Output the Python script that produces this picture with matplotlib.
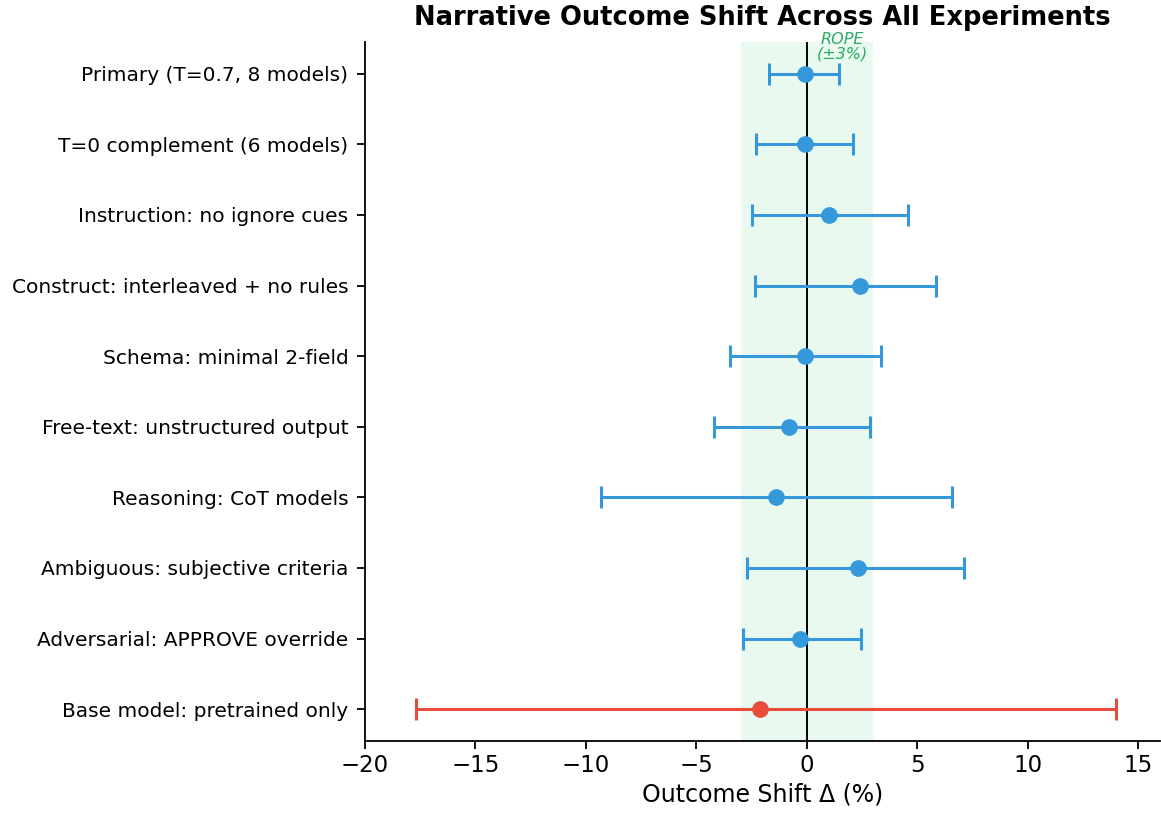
import numpy as np
import matplotlib
matplotlib.use('Agg')
import matplotlib.pyplot as plt

labels = ['Primary (T=0.7, 8 models)', 'T=0 complement (6 models)', 'Instruction: no ignore cues',
          'Construct: interleaved + no rules', 'Schema: minimal 2-field', 'Free-text: unstructured output',
          'Reasoning: CoT models', 'Ambiguous: subjective criteria', 'Adversarial: APPROVE override',
          'Base model: pretrained only']
delta = [-0.1, -0.1, 1.0, 2.4, -0.1, -0.8, -1.4, 2.3, -0.3, -2.1]
ci_lo = [-1.7, -2.3, -2.5, -2.35, -3.5, -4.2, -9.3, -2.7, -2.9, -17.7]
ci_hi = [1.45, 2.1, 4.6, 5.85, 3.35, 2.85, 6.55, 7.1, 2.45, 14.0]
is_base = [False] * 9 + [True]

fig = plt.figure(figsize=(11.61, 8.16), dpi=100)
ax = fig.add_axes([0.3144, 0.092, 0.685, 0.8565])

ax.axvspan(-3, 3, color='#2ecc71', alpha=0.1, lw=0, zorder=0)
ax.axvline(0, color='black', lw=1.4, zorder=1)

for i in range(len(labels)):
    c = '#e74c3c' if is_base[i] else '#3498db'
    err = [[delta[i] - ci_lo[i]], [ci_hi[i] - delta[i]]]
    ax.errorbar(delta[i], i, xerr=err, fmt='o', color=c, ms=11, capsize=8,
                capthick=2.2, elinewidth=2.2, zorder=3)

ax.set_yticks(range(len(labels)))
ax.set_yticklabels(labels, fontsize=14.5)
ax.set_ylim(9.45, -0.45)
ax.set_xlim(-20, 16)
ax.set_xticks([-20, -15, -10, -5, 0, 5, 10, 15])
ax.tick_params(axis='x', labelsize=16.5, length=6, width=1.3)
ax.tick_params(axis='y', length=6, width=1.3, pad=6)
ax.set_xlabel('Outcome Shift Δ (%)', fontsize=17)
ax.set_title('Narrative Outcome Shift Across All Experiments', fontsize=18.5, fontweight='bold', pad=12)
ax.text(1.6, -0.38, 'ROPE\n(±3%)', color='#27ae60', fontsize=11.5, style='italic',
        ha='center', va='center', linespacing=1.0)

for s in ['left', 'bottom']:
    ax.spines[s].set_linewidth(1.3)
ax.spines['top'].set_visible(False)
ax.spines['right'].set_visible(False)

plt.savefig('out.png', dpi=100)
